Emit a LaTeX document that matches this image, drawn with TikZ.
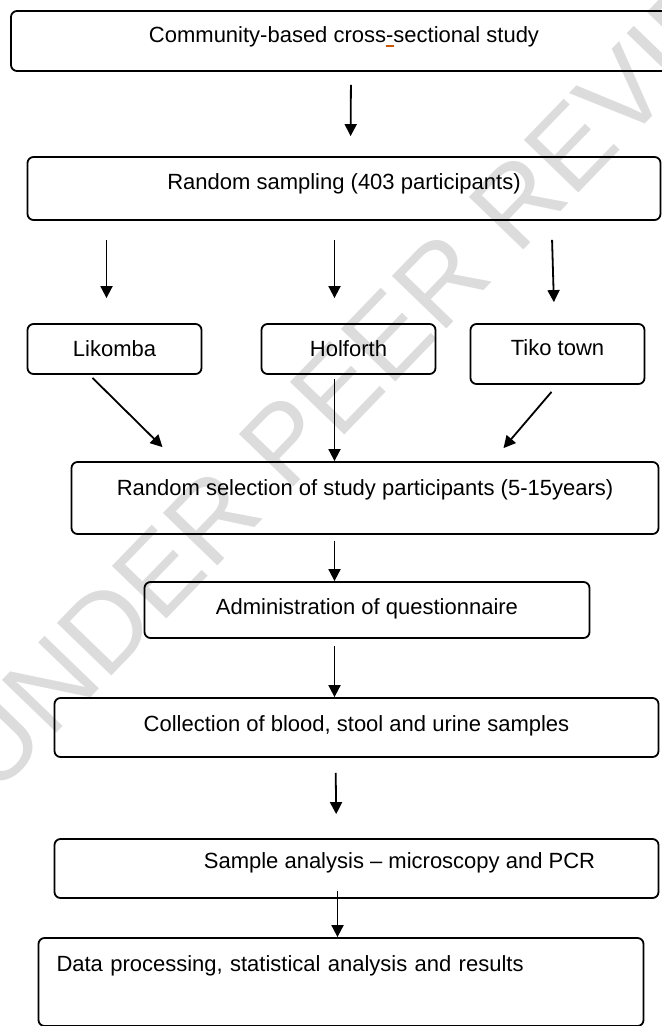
\documentclass[tikz,border=0pt]{standalone}
\usepackage{fontspec}
\setmainfont{Liberation Sans}
\usepackage{xcolor}
\usepackage{tikz}
\usetikzlibrary{arrows.meta, positioning}
\tikzstyle{block} = [rectangle, draw, rounded corners = 3pt, line width = 0.9pt, inner sep = 0pt, text height = 8pt, font = \fontsize{11pt}{13.5pt}\selectfont]
\tikzstyle{blockSite} = [block, minimum width = 87pt, minimum height = 25pt, text depth = 1pt]
\tikzstyle{line} = [line width = 0.9pt, ->, >= {Triangle[length = 6pt, width = 6pt]}]
\tikzstyle{wmark} = [anchor = base west, rotate = 46, inner sep = 0pt, text = wmGray, font = \fontsize{55pt}{62pt}\selectfont]
\definecolor{wmGray}{HTML}{DCDCDC}
\definecolor{spellOrange}{HTML}{CC5500}
\newcommand{\spellmark}{\makebox[0pt][l]{\textcolor{spellOrange}{\rule[-2pt]{3.7pt}{1pt}}}}

\begin{document}
\begin{tikzpicture}
        \useasboundingbox (0,0) rectangle (331pt,-513pt);
        \node(watermark) [wmark] at (-2.65pt,-398.7pt) {UNDER PEER REVIEW};
        \node(study) [block, minimum width = 333pt, minimum height = 30pt, text depth = 6pt] at (172pt,-20.5pt) {Community-based cross\spellmark-sectional study};
        \node(sampling) [block, below of = study, node distance = 73.75pt, minimum width = 316.5pt, minimum height = 31.5pt, text depth = 6.5pt] {Random sampling (403 participants)};
        \node(holforth) [blockSite, below of = sampling, node distance = 80.25pt, xshift = 2.25pt] {Holforth};
        \node(likomba) [blockSite, left of = holforth, node distance = 117pt] {Likomba};
        \node(tiko) [blockSite, right of = holforth, node distance = 104.5pt, yshift = -2.5pt, minimum height = 30pt, text depth = 6.4pt] {Tiko town};
        \node(selection) [block, below of = holforth, node distance = 74.5pt, xshift = 8.25pt, minimum width = 293.5pt, minimum height = 36pt, text depth = 11pt] {Random selection of study participants (5-15years)};
        \node(quest) [block, below of = selection, node distance = 56pt, xshift = 1pt, minimum width = 222.5pt, minimum height = 28pt, text depth = 4pt] {Administration of questionnaire};
        \node(collect) [block, below of = quest, node distance = 58.75pt, xshift = -5.25pt, minimum width = 302pt, minimum height = 29.5pt, text depth = 4.5pt] {Collection of blood, stool and urine samples};
        \node(analysis) [block, below of = collect, node distance = 70.5pt, minimum width = 302pt, minimum height = 29.5pt, text depth = 8pt] {\hspace*{43pt}Sample analysis – microscopy and PCR};
        \node(results) [block, below of = analysis, node distance = 56.75pt, xshift = -7.75pt, minimum width = 302.5pt, minimum height = 44pt, inner xsep = 9pt, text width = 284.5pt, align = left, text depth = 18.5pt] {Data processing, statistical analysis and results};
        \draw[line, shorten <= 6.5pt, shorten >= 10pt] ([xshift = 3.5pt]study.south) -- ([xshift = 3.25pt]sampling.north);
        \draw[line, shorten <= 9.5pt, shorten >= 12.5pt] ([xshift = -118.75pt]sampling.south) -- ([xshift = -4pt]likomba.north);
        \draw[line, shorten <= 9.5pt, shorten >= 12.5pt] ([xshift = -4.75pt]sampling.south) -- ([xshift = -7pt]holforth.north);
        \draw[line, shorten <= 9.5pt, shorten >= 10.5pt] ([xshift = 103.75pt]sampling.south) -- ([xshift = -1.5pt]tiko.north);
        \draw[line] ([xshift = -11pt, yshift = -1.5pt]likomba.south) -- ([xshift = -101.25pt, yshift = 7pt]selection.north);
        \draw[line, shorten <= 2pt] ([xshift = -7pt]holforth.south) -- ([xshift = -15.25pt]selection.north);
        \draw[line] ([xshift = -3pt, yshift = -3.5pt]tiko.south) -- ([xshift = 69.25pt, yshift = 6.5pt]selection.north);
        \draw[line, shorten <= 3pt] ([xshift = -15.25pt]selection.south) -- ([xshift = -16.25pt]quest.north);
        \draw[line, shorten <= 3.5pt] ([xshift = -16.25pt]quest.south) -- ([xshift = -11pt]collect.north);
        \draw[line, shorten <= 7.5pt, shorten >= 12pt] ([xshift = -10.5pt]collect.south) -- ([xshift = -10pt]analysis.north);
        \draw[line] ([xshift = -9.5pt, yshift = 4pt]analysis.south) -- ([xshift = -1.75pt]results.north);
    \end{tikzpicture}
\end{document}
